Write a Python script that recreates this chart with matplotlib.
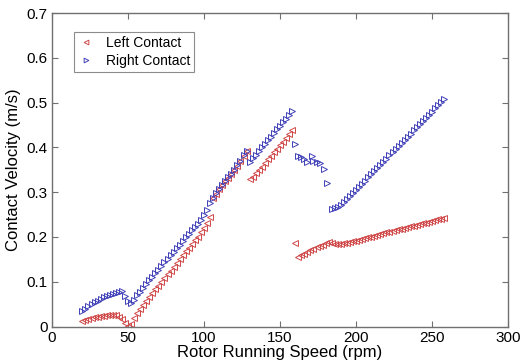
import matplotlib
matplotlib.use("Agg")
import matplotlib.pyplot as plt

plt.rcParams['font.family'] = ['Liberation Sans', 'DejaVu Sans']

# vitesses (rpm) et vitesses de contact (m/s)
left_speed = (list(range(20, 130, 2)) + list(range(130, 160, 2))
              + [160] + list(range(162, 260, 2)))
left_vel = [
    # 20 .. 128
    0.012, 0.015, 0.017, 0.019, 0.021, 0.022, 0.023, 0.024, 0.025, 0.026,
    0.026, 0.025, 0.022, 0.016, 0.008, 0.002, 0.005, 0.018, 0.030, 0.040,
    0.048, 0.057, 0.066, 0.074, 0.083, 0.091, 0.100, 0.108, 0.117, 0.125,
    0.134, 0.142, 0.151, 0.159, 0.168, 0.176, 0.184, 0.193, 0.201, 0.210,
    0.220, 0.232, 0.245, 0.287, 0.297, 0.307, 0.315, 0.324, 0.332, 0.340,
    0.349, 0.359, 0.369, 0.381, 0.391,
    # 130 .. 158
    0.330, 0.334, 0.342, 0.350, 0.357, 0.365, 0.373, 0.381, 0.389, 0.397,
    0.405, 0.413, 0.421, 0.429, 0.438,
    # 160
    0.186,
    # 162 .. 258
    0.156, 0.159, 0.163, 0.166, 0.170, 0.173, 0.177, 0.180, 0.183, 0.186,
    0.188, 0.186, 0.185, 0.185, 0.185, 0.186, 0.187, 0.189, 0.190, 0.192,
    0.194, 0.196, 0.197, 0.199, 0.201, 0.203, 0.204, 0.206, 0.208, 0.210,
    0.211, 0.213, 0.215, 0.217, 0.218, 0.220, 0.222, 0.224, 0.225, 0.227,
    0.229, 0.231, 0.232, 0.234, 0.236, 0.238, 0.239, 0.241, 0.243,
]

right_speed = (list(range(20, 130, 2)) + list(range(130, 160, 2))
               + [160, 162, 164, 166, 168, 171, 172, 174, 176, 179, 181]
               + list(range(184, 260, 2)))
right_vel = [
    # 20 .. 128
    0.035, 0.040, 0.045, 0.050, 0.055, 0.058, 0.062, 0.066, 0.069, 0.071,
    0.073, 0.075, 0.076, 0.080, 0.068, 0.058, 0.052, 0.060, 0.070, 0.078,
    0.087, 0.095, 0.103, 0.111, 0.119, 0.127, 0.135, 0.143, 0.151, 0.159,
    0.167, 0.175, 0.183, 0.191, 0.199, 0.207, 0.215, 0.222, 0.230, 0.238,
    0.248, 0.260, 0.275, 0.288, 0.298, 0.308, 0.316, 0.325, 0.333, 0.341,
    0.350, 0.360, 0.370, 0.382, 0.392,
    # 130 .. 158
    0.368, 0.376, 0.384, 0.392, 0.400, 0.408, 0.416, 0.424, 0.432, 0.440,
    0.448, 0.456, 0.464, 0.473, 0.482,
    # 160 .. 181
    0.408, 0.381, 0.378, 0.374, 0.367, 0.381, 0.370, 0.367, 0.365, 0.352,
    0.320,
    # 184 .. 258
    0.262, 0.264, 0.267, 0.272, 0.278, 0.285, 0.291, 0.298, 0.305, 0.312,
    0.319, 0.326, 0.333, 0.340, 0.347, 0.354, 0.361, 0.368, 0.375, 0.382,
    0.389, 0.396, 0.403, 0.410, 0.417, 0.424, 0.431, 0.438, 0.445, 0.452,
    0.459, 0.466, 0.473, 0.480, 0.487, 0.494, 0.501, 0.508,
]

red = '#d04848'
blue = '#4040b8'

fig = plt.figure(figsize=(5.2, 3.62), dpi=100)
ax = fig.add_axes([0.1, 0.098, 0.877, 0.866])

ax.plot(left_speed, left_vel, linestyle='none', marker='<', markersize=4,
        markerfacecolor='none', markeredgecolor=red, markeredgewidth=0.7,
        label='Left Contact')
ax.plot(right_speed, right_vel, linestyle='none', marker='>', markersize=4,
        markerfacecolor='none', markeredgecolor=blue, markeredgewidth=0.7,
        label='Right Contact')

ax.set_xlim(0, 300)
ax.set_ylim(0, 0.7)
ax.set_xticks([0, 50, 100, 150, 200, 250, 300])
ax.set_yticks([0, 0.1, 0.2, 0.3, 0.4, 0.5, 0.6, 0.7])
ax.set_yticklabels(['0', '0.1', '0.2', '0.3', '0.4', '0.5', '0.6', '0.7'])

for s in ax.spines.values():
    s.set_color('#707070')
    s.set_linewidth(1.0)
ax.tick_params(direction='in', top=True, right=True, length=4,
               color='#707070', labelsize=11, pad=3)

ax.set_xlabel('Rotor Running Speed (rpm)', fontsize=12, labelpad=0)
ax.set_ylabel('Contact Velocity (m/s)', fontsize=12, labelpad=4)

leg = ax.legend(loc='upper left', bbox_to_anchor=(0.033, 0.962), fontsize=10,
                frameon=True, fancybox=False, handlelength=1.2,
                handletextpad=0.8, borderpad=0.3, labelspacing=0.25,
                markerscale=0.85)
leg.get_frame().set_edgecolor('#707070')
leg.get_frame().set_linewidth(0.8)

fig.savefig('out.png', dpi=100)
